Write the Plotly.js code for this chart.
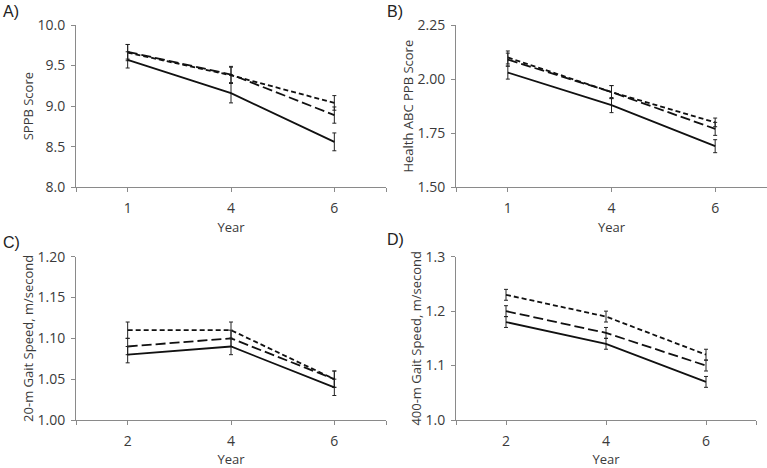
<!DOCTYPE html>
<html>
<head>
<meta charset="utf-8">
<script src="https://cdn.plot.ly/plotly-3.0.1.min.js"></script>
<style>html,body{margin:0;padding:0;background:#fff;}#chart{width:767px;height:468px;}</style>
</head>
<body>
<div id="chart"></div>
<script>
// ---- data ----
const yearsAB = ['1', '4', '6'];
const yearsCD = ['2', '4', '6'];

// Panel A: SPPB Score
const sppbSolid = [9.57, 9.16, 8.56];
const sppbSolidErr = [0.10, 0.12, 0.11];
const sppbLong = [9.67, 9.39, 8.89];
const sppbLongErr = [0.09, 0.10, 0.10];
const sppbShort = [9.66, 9.38, 9.04];
const sppbShortErr = [0.10, 0.10, 0.09];

// Panel B: Health ABC PPB Score
const ppbSolid = [2.03, 1.88, 1.69];
const ppbSolidErr = [0.03, 0.035, 0.03];
const ppbLong = [2.09, 1.94, 1.77];
const ppbLongErr = [0.03, 0.03, 0.03];
const ppbShort = [2.10, 1.94, 1.80];
const ppbShortErr = [0.03, 0.03, 0.02];

// Panel C: 20-m Gait Speed
const g20Solid = [1.08, 1.09, 1.04];
const g20SolidErr = [0.01, 0.01, 0.01];
const g20Long = [1.09, 1.10, 1.05];
const g20LongErr = [0.01, 0.01, 0.01];
const g20Short = [1.11, 1.11, 1.05];
const g20ShortErr = [0.01, 0.01, 0.01];

// Panel D: 400-m Gait Speed
const g400Solid = [1.18, 1.14, 1.07];
const g400SolidErr = [0.01, 0.01, 0.01];
const g400Long = [1.20, 1.16, 1.10];
const g400LongErr = [0.01, 0.01, 0.01];
const g400Short = [1.23, 1.19, 1.12];
const g400ShortErr = [0.01, 0.01, 0.01];

// ---- styling / build ----
const W = 767, H = 468;
const FONT = '"Open Sans", "Noto Sans", sans-serif';
const styles = {
  solid: {dash: 'solid', width: 1.8},
  long: {dash: '10px,4px', width: 1.8},
  short: {dash: '5px,3px', width: 1.8}
};

function series(cats, y, err, kind, xa, ya) {
  return {
    type: 'scatter', mode: 'lines',
    x: cats.map((_, i) => i), y: y,
    xaxis: xa, yaxis: ya,
    line: {color: '#111', dash: styles[kind].dash, width: styles[kind].width},
    error_y: {type: 'data', array: err, visible: true, color: '#222', thickness: 1, width: 2},
    hoverinfo: 'skip', showlegend: false
  };
}

const data = [
  series(yearsAB, sppbShort, sppbShortErr, 'short', 'x', 'y'),
  series(yearsAB, sppbLong, sppbLongErr, 'long', 'x', 'y'),
  series(yearsAB, sppbSolid, sppbSolidErr, 'solid', 'x', 'y'),
  series(yearsAB, ppbShort, ppbShortErr, 'short', 'x2', 'y2'),
  series(yearsAB, ppbLong, ppbLongErr, 'long', 'x2', 'y2'),
  series(yearsAB, ppbSolid, ppbSolidErr, 'solid', 'x2', 'y2'),
  series(yearsCD, g20Short, g20ShortErr, 'short', 'x3', 'y3'),
  series(yearsCD, g20Long, g20LongErr, 'long', 'x3', 'y3'),
  series(yearsCD, g20Solid, g20SolidErr, 'solid', 'x3', 'y3'),
  series(yearsCD, g400Short, g400ShortErr, 'short', 'x4', 'y4'),
  series(yearsCD, g400Long, g400LongErr, 'long', 'x4', 'y4'),
  series(yearsCD, g400Solid, g400SolidErr, 'solid', 'x4', 'y4')
];

const axisColor = '#8a8a8a';
const textColor = '#3a3a3a';

function xaxis(cats, x0, x1, anchor) {
  return {
    domain: [x0 / W, x1 / W], anchor: anchor,
    range: [-0.5, 2.5], showgrid: false, zeroline: false,
    showline: true, linecolor: axisColor, linewidth: 1,
    ticks: 'outside', ticklen: 4, tickcolor: axisColor, tickwidth: 1,
    tickvals: [-0.5, 0, 1, 2, 2.5], ticktext: [''].concat(cats, ['']),
    ticklabelstandoff: 4,
    tickfont: {family: FONT, size: 14, color: textColor},
    title: {text: 'Year', font: {family: FONT, size: 13, color: textColor}, standoff: 6}
  };
}
function yaxis(title, rng, dtick, fmt, top, bottom, anchor) {
  return {
    domain: [(H - bottom) / H, (H - top) / H], anchor: anchor,
    range: rng, dtick: dtick, tick0: rng[0], tickformat: fmt,
    showgrid: false, zeroline: false,
    showline: true, linecolor: axisColor, linewidth: 1,
    ticks: 'outside', ticklen: 4, tickcolor: axisColor, tickwidth: 1,
    ticklabelstandoff: 3,
    tickfont: {family: FONT, size: 14, color: textColor},
    title: {text: title, font: {family: FONT, size: 13, color: textColor}, standoff: 0}
  };
}

const labelFont = {family: '"Liberation Sans", Arial, sans-serif', size: 16, color: '#222'};
function panelLabel(t, px, py) {
  return {text: t, xref: 'paper', yref: 'paper', x: px / W, y: (H - py) / H,
    xanchor: 'left', yanchor: 'top', showarrow: false, font: labelFont};
}

const layout = {
  width: W, height: H,
  margin: {l: 0, r: 0, t: 0, b: 0},
  paper_bgcolor: '#fff', plot_bgcolor: '#fff',
  xaxis: xaxis(yearsAB, 76, 386, 'y'),
  yaxis: yaxis('SPPB Score', [8, 10], 0.5, '.1f', 25, 187.3, 'x'),
  xaxis2: xaxis(yearsAB, 456, 767, 'y2'),
  yaxis2: yaxis('Health ABC PPB Score', [1.5, 2.25], 0.25, '.2f', 25, 187.3, 'x2'),
  xaxis3: xaxis(yearsCD, 76, 386, 'y3'),
  yaxis3: yaxis('20-m Gait Speed, m/second', [1.0, 1.2], 0.05, '.2f', 256.7, 420, 'x3'),
  xaxis4: xaxis(yearsCD, 456, 756, 'y4'),
  yaxis4: yaxis('400-m Gait Speed, m/second', [1.0, 1.3], 0.1, '.1f', 256.7, 420, 'x4'),
  annotations: [
    panelLabel('A)', 1, 1),
    panelLabel('B)', 385, 1),
    panelLabel('C)', 1, 232),
    panelLabel('D)', 385, 229)
  ]
};

Plotly.newPlot('chart', data, layout, {displayModeBar: false, staticPlot: true});
</script>
</body>
</html>
